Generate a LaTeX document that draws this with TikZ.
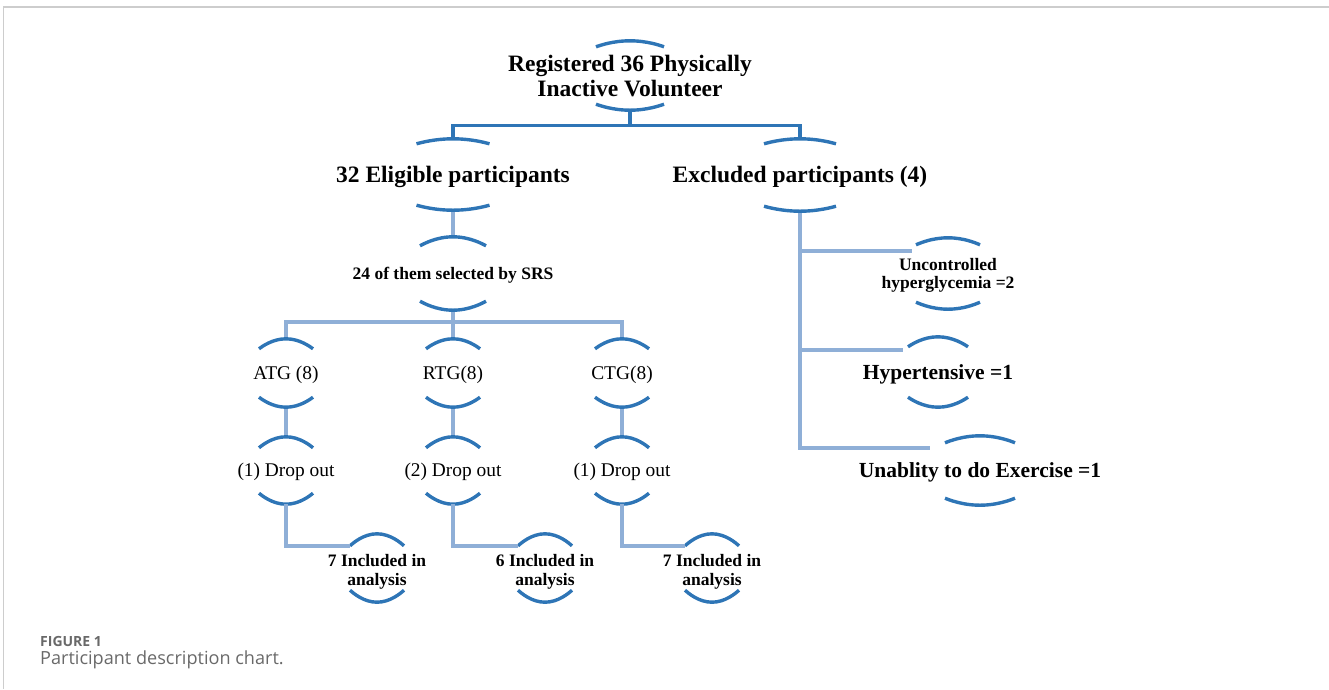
\documentclass[tikz,border=0pt]{standalone}
\usepackage{fontspec}
\setmainfont{Liberation Serif}
\newfontfamily\capfont{Open Sans}
\usetikzlibrary{positioning,calc}
\definecolor{arcblue}{RGB}{46,117,182}
\definecolor{linkblue}{RGB}{143,175,215}
\definecolor{capgray}{RGB}{105,105,105}
\definecolor{framegray}{RGB}{205,205,205}
\tikzset{
    flowchart/.style={
        x=1pt, y=1pt,
        % Stile per titoli grandi (grassetto)
        bigtext/.style={align=center, inner sep=0pt,
                        text height=15.6pt, text depth=0pt,
                        font=\fontsize{23.5}{24.5}\selectfont\bfseries},
        % Stile per titolo su due righe
        bigtwo/.style={align=center, inner sep=0pt,
                       font=\fontsize{23.5}{24.5}\selectfont\bfseries},
        % Stile per titoli medi (grassetto)
        midtext/.style={align=center, inner sep=0pt,
                        text height=14.2pt, text depth=0pt,
                        font=\fontsize{21.5}{23}\selectfont\bfseries},
        % Stile per testo piccolo (grassetto)
        smalltext/.style={align=center, inner sep=0pt,
                          text height=11.6pt, text depth=0pt,
                          font=\fontsize{17.5}{18.8}\selectfont\bfseries},
        % Stile per testo piccolo su due righe
        smalltwo/.style={align=center, inner sep=0pt,
                         font=\fontsize{17.5}{18.8}\selectfont\bfseries},
        % Stile per gruppi (tondo)
        plaintext/.style={align=center, inner sep=0pt,
                          text height=12.8pt, text depth=0pt,
                          font=\fontsize{19.4}{21}\selectfont},
        % Archi sopra e sotto
        arcline/.style={draw=arcblue, line width=3.4pt},
        % Collegamenti
        darklink/.style={draw=arcblue, line width=3.3pt},
        lightlink/.style={draw=linkblue, line width=3.8pt}
    }
}
% archi sopra/sotto un nodo: nome, semi-corda, freccia
\newcommand{\arcpair}[3]{%
  \draw[arcline] ($(#1.north)+(-#2,-#3)$) parabola bend (#1.north) ($(#1.north)+(#2,-#3)$);
  \draw[arcline] ($(#1.south)+(-#2,#3)$) parabola bend (#1.south) ($(#1.south)+(#2,#3)$);
  \coordinate (#1-tl) at ($(#1.north)+(-#2,-#3)$);}
% prima riga piu' alta (abbassa il testo)
\newcommand{\toprow}[1]{\rule{0pt}{#1}}

\begin{document}
\begin{tikzpicture}[flowchart]
    \useasboundingbox (0,0) rectangle (1329,-689);
    \draw[framegray, line width=2pt] (3,-7) -- (1329,-7);
    \draw[framegray, line width=1pt] (3,-7) -- (3,-689);

    \node[bigtwo, minimum height=69pt] (reg) at (630,-75.5) {\toprow{17pt}Registered 36 Physically\\Inactive Volunteer};
    \node[bigtext, minimum height=71pt] (elig) at (453,-174.5) {32 Eligible participants};
    \node[bigtext, minimum height=72pt] (excl) at (800,-175) {Excluded participants (4)};
    \node[smalltext, minimum height=73pt] (srs) at (453,-273.5) {24 of them selected by SRS};

    \node[plaintext, minimum height=68pt] (atg) at (286,-373) {ATG (8)};
    \node[plaintext, minimum height=68pt] (rtg) at (453,-373) {RTG(8)};
    \node[plaintext, minimum height=68pt] (ctg) at (622,-373) {CTG(8)};

    \node[plaintext, minimum height=67pt] (dropA) at (286,-470.5) {(1) Drop out};
    \node[plaintext, minimum height=67pt] (dropR) at (453,-470.5) {(2) Drop out};
    \node[plaintext, minimum height=67pt] (dropC) at (622,-470.5) {(1) Drop out};

    \node[smalltwo, minimum height=68pt] (incA) at (377,-568) {\toprow{19pt}7 Included in\\analysis};
    \node[smalltwo, minimum height=68pt] (incR) at (545,-568) {\toprow{19pt}6 Included in\\analysis};
    \node[smalltwo, minimum height=68pt] (incC) at (712,-568) {\toprow{19pt}7 Included in\\analysis};

    \node[smalltwo, minimum height=71pt] (unc) at (948,-273.5) {\toprow{16pt}Uncontrolled\\hyperglycemia =2};
    \node[midtext, minimum height=70pt] (hyp) at (938,-372) {Hypertensive =1};
    \node[midtext, minimum height=69pt] (unab) at (980,-470.5) {Unablity to do Exercise =1};

    \coordinate (unc-in) at (912,-251);
    \coordinate (hyp-in) at (903,-350);
    \coordinate (unab-in) at (930,-448);

    % collegamenti
    \draw[darklink] (reg.south) -- ++(0,-15) -| (elig.north);
    \draw[darklink] (reg.south) -- ++(0,-15) -| (excl.north);
    \draw[lightlink] (elig.south) -- (srs.north);
    \draw[lightlink] (srs.south) -- ++(0,-12) -| (atg.north);
    \draw[lightlink] (srs.south) -- ++(0,-12) -| (rtg.north);
    \draw[lightlink] (srs.south) -- ++(0,-12) -| (ctg.north);
    \draw[lightlink] (atg.south) -- (dropA.north);
    \draw[lightlink] (rtg.south) -- (dropR.north);
    \draw[lightlink] (ctg.south) -- (dropC.north);
    \draw[lightlink] (excl.south) |- (unc-in);
    \draw[lightlink] (excl.south) |- (hyp-in);
    \draw[lightlink] (excl.south) |- (unab-in);

    % archi
    \arcpair{reg}{34}{6}
    \arcpair{elig}{36.5}{5}
    \arcpair{excl}{36}{5}
    \arcpair{srs}{33}{9}
    \foreach \n in {atg,rtg,ctg} {\arcpair{\n}{27}{10}}
    \foreach \n in {dropA,dropR,dropC} {\arcpair{\n}{27}{11}}
    \foreach \n in {incA,incR,incC} {\arcpair{\n}{27}{12}}
    \arcpair{unc}{32}{7}
    \arcpair{hyp}{30}{10}
    \arcpair{unab}{35}{7}

    \draw[lightlink] (dropA.south) |- (incA-tl);
    \draw[lightlink] (dropR.south) |- (incR-tl);
    \draw[lightlink] (dropC.south) |- (incC-tl);

    % didascalia
    \node[anchor=base west, inner sep=0pt, text=capgray, font=\capfont\fontsize{14}{16}\selectfont\bfseries] (figno) at (40,-646) {FIGURE 1};
    \node[anchor=base west, inner sep=0pt, text=capgray, font=\capfont\fontsize{18.1}{20}\selectfont] (figcap) at (40,-664.5) {Participant description chart.};
\end{tikzpicture}
\end{document}
